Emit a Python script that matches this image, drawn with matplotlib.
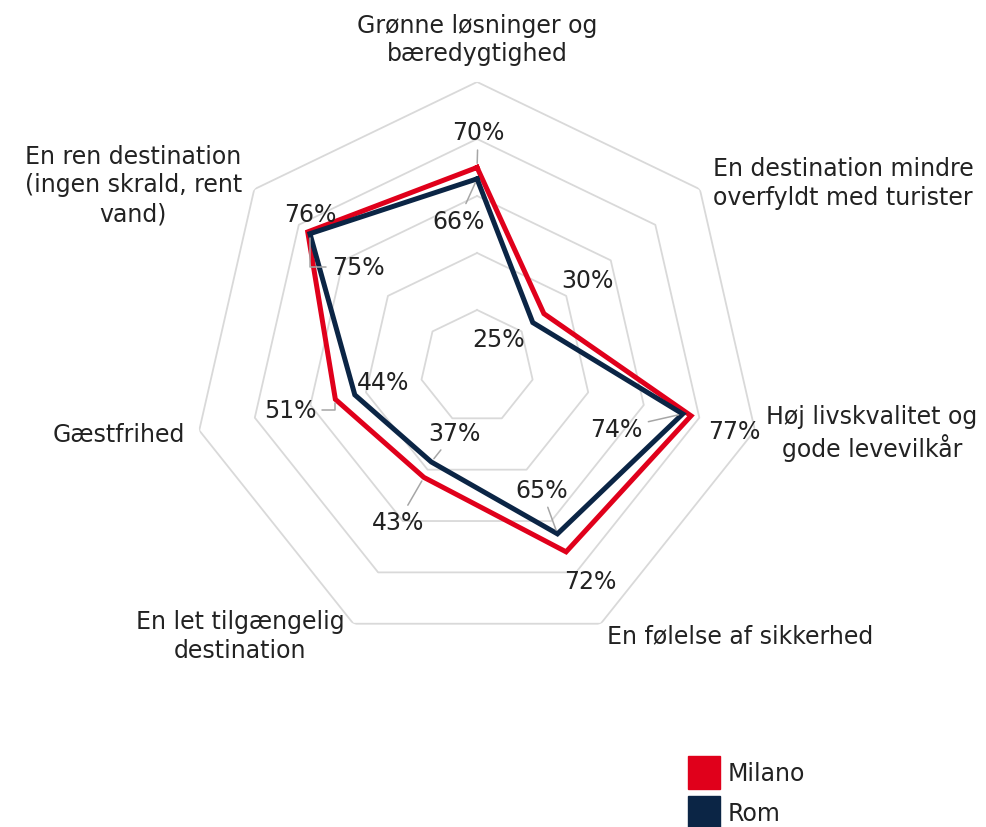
import numpy as np
import matplotlib.pyplot as plt
from matplotlib.patches import Patch

plt.rcParams['font.family'] = ['DejaVu Sans']

categories = ['Grønne løsninger og\nbæredygtighed',
              'En destination mindre\noverfyldt med turister',
              'Høj livskvalitet og\ngode levevilkår',
              'En følelse af sikkerhed',
              'En let tilgængelig\ndestination',
              'Gæstfrihed',
              'En ren destination\n(ingen skrald, rent\nvand)']
milano = [70, 30, 77, 72, 43, 51, 76]
rom = [66, 25, 74, 65, 37, 44, 75]

RED = '#e0001b'
NAVY = '#0b2545'
GRID = '#d9d9d9'
TXT = '#222222'
FS = 17

n = len(categories)
theta = np.arange(n) * 2 * np.pi / n
theta_c = np.append(theta, theta[0])

fig = plt.figure(figsize=(9.87, 8.28), dpi=100)
ax = fig.add_axes([0.1946, 0.2114, 0.5775, 0.6884], projection='polar')
ax.set_theta_zero_location('N')
ax.set_theta_direction(-1)
ax.set_ylim(0, 100)
ax.set_axis_off()

# heptagon grid rings
for r in [20, 40, 60, 80, 100]:
    ax.plot(theta_c, [r] * (n + 1), color=GRID, lw=1.3, zorder=1)

m = np.append(milano, milano[0])
ro = np.append(rom, rom[0])
ax.plot(theta_c, m, color=RED, lw=3.6, zorder=3, solid_joinstyle='miter')
ax.plot(theta_c, ro, color=NAVY, lw=3.6, zorder=4, solid_joinstyle='miter')

# category labels, offsets (px) from the outer ring vertex
cat_off = [(0, 43), (143, 7), (117, -2), (139, -11), (-113, -12), (-80, -4), (-121, 5)]
for t, lab, off in zip(theta, categories, cat_off):
    ax.annotate(lab, xy=(t, 100), xytext=off, textcoords='offset pixels',
                ha='center', va='center', fontsize=FS, color=TXT,
                multialignment='center', linespacing=1.25)

# value labels (px offsets) and leader line styles
milano_off = [(1, 35), (44, 34), (43, -15), (24, -29), (-26, -45), (-45, -11), (3, 18)]
rom_off = [(-19, -42), (-34, -16), (-66, -15), (-16, 44), (23, 29), (28, 13), (48, -33)]
milano_lead = [True, False, False, False, True, 'elbow', False]
rom_lead = [True, False, True, True, True, False, 'elbow']


def value_labels(vals, offs, leads):
    for t, v, off, lead in zip(theta, vals, offs, leads):
        props = None
        if lead:
            props = dict(arrowstyle='-', color='#a6a6a6', lw=1.1,
                         shrinkA=2, shrinkB=3)
            if lead == 'elbow':
                props['connectionstyle'] = 'angle,angleA=0,angleB=90,rad=0'
        ax.annotate(f'{v}%', xy=(t, v), xytext=off, textcoords='offset pixels',
                    ha='center', va='center', fontsize=FS, color=TXT,
                    arrowprops=props, zorder=5)


value_labels(milano, milano_off, milano_lead)
value_labels(rom, rom_off, rom_lead)

handles = [Patch(color=RED), Patch(color=NAVY)]
fig.legend(handles, ['Milano', 'Rom'], loc='upper left',
           bbox_to_anchor=(688 / 987, 1 - 757 / 828), frameon=False,
           fontsize=FS, handlelength=1.36, handleheight=1.76,
           handletextpad=0.3, labelspacing=0.3, borderpad=0,
           borderaxespad=0, labelcolor=TXT)

fig.savefig('out.png', dpi=100)
